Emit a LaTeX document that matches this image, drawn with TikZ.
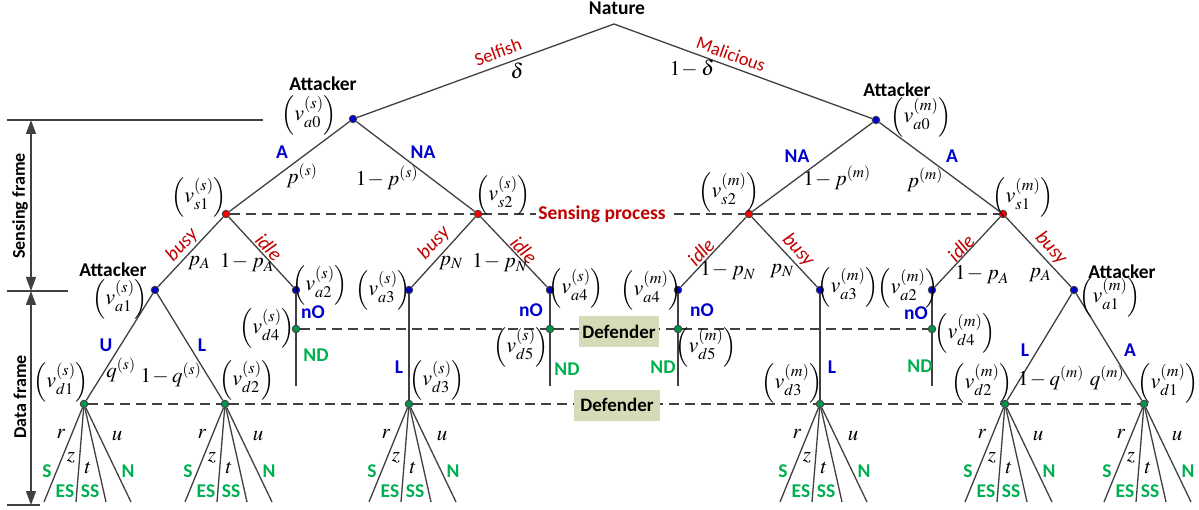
\documentclass[tikz,border=0pt]{standalone}
\usepackage{mathptmx}
\usepackage{fontspec}
\setmainfont{Carlito}
\usetikzlibrary{arrows.meta}
\definecolor{lgray}{HTML}{404040}
\definecolor{tblue}{HTML}{0000CC}
\definecolor{tred}{HTML}{C00000}
\definecolor{tgreen}{HTML}{00B050}
\definecolor{dblue}{HTML}{0000CC}
\definecolor{dred}{HTML}{FF0000}
\definecolor{dgreen}{HTML}{00964A}
\definecolor{boxgreen}{HTML}{D5DBB6}
\newcommand\vlbl[2]{$\left(v^{(#1)}_{#2}\right)$}
\newcommand\omn{1\mkern1mu{-}\mkern3mu}
\newcommand\drawfan[1]{%
  \path (#1) ++(-40,98) coordinate (#1l1);
  \path (#1) ++(-8,98) coordinate (#1l2);
  \path (#1) ++(22,98) coordinate (#1l3);
  \path (#1) ++(47,98) coordinate (#1l4);
  \draw[edge] (#1) -- (#1l1);
  \draw[edge] (#1) -- (#1l2);
  \draw[edge] (#1) -- (#1l3);
  \draw[edge] (#1) -- (#1l4);
  \path (#1) ++(-23,30) node[mlab] (#1r) {$r$};
  \path (#1) ++(-13,54) node[mlab] (#1z) {$z$};
  \path (#1) ++(4,64) node[mlab] (#1t) {$t$};
  \path (#1) ++(33,32) node[mlab] (#1u) {$u$};
  \path (#1) ++(-37,67) node[glab] (#1S) {S};
  \path (#1) ++(-19,87) node[glab] (#1ES) {ES};
  \path (#1) ++(6,87) node[glab] (#1SS) {SS};
  \path (#1) ++(44,67) node[glab] (#1N) {N};
}
\begin{document}
\begin{tikzpicture}[x=1pt,y=-1pt,
  edge/.style={draw=lgray, line width=1.3pt},
  dashline/.style={draw=lgray, line width=1.2pt, dash pattern=on 10pt off 6pt},
  dotbase/.style={circle, inner sep=0pt, minimum size=7.5pt, draw=lgray, line width=0.9pt},
  dotb/.style={dotbase, fill=dblue},
  dotr/.style={dotbase, fill=dred},
  dotg/.style={dotbase, fill=dgreen},
  blab/.style={text=tblue, font=\fontsize{19.5}{21}\selectfont\bfseries, inner sep=0pt},
  glab/.style={text=tgreen, font=\fontsize{19.5}{21}\selectfont\bfseries, inner sep=0pt},
  rlab/.style={text=tred, font=\fontsize{20}{22}\selectfont\itshape, inner sep=0pt},
  slab/.style={text=tred, font=\fontsize{18.5}{20}\selectfont, inner sep=0pt},
  klab/.style={font=\fontsize{19.5}{21}\selectfont\bfseries, inner sep=0pt},
  mlab/.style={font=\fontsize{21}{23}\selectfont, inner sep=0pt},
  vlab/.style={font=\fontsize{22}{24}\selectfont, inner sep=0pt},
  defbox/.style={fill=boxgreen, font=\fontsize{19}{20}\selectfont\bfseries, inner sep=0pt, minimum width=80pt, minimum height=31pt},
  framearrow/.style={draw=lgray, line width=1.3pt, {Triangle[length=14pt,width=10pt]}-{Triangle[length=14pt,width=10pt]}},
  tick/.style={draw=lgray, line width=1.3pt}
]
\useasboundingbox (0,0) rectangle (1199,510);

% ---------- nodes ----------
\coordinate (nat) at (614,24);
\node[dotb] (a0s) at (353,119) {};
\node[dotb] (a0m) at (876,120) {};
\node[dotr] (s1s) at (226,214) {};
\node[dotr] (s2s) at (478,214) {};
\node[dotr] (s2m) at (749,214) {};
\node[dotr] (s1m) at (1003,214) {};
\node[dotb] (a1s) at (155,290) {};
\node[dotb] (a2s) at (296,290) {};
\node[dotb] (a3s) at (409,290) {};
\node[dotb] (a4s) at (550,290) {};
\node[dotb] (a4m) at (678,290) {};
\node[dotb] (a3m) at (820,290) {};
\node[dotb] (a2m) at (932,290) {};
\node[dotb] (a1m) at (1074,290) {};
\node[dotg] (d4s) at (296,329) {};
\node[dotg] (d5s) at (550,329) {};
\node[dotg] (d5m) at (678,329) {};
\node[dotg] (d4m) at (932,329) {};
\node[dotg] (d1s) at (84,404) {};
\node[dotg] (d2s) at (225,404) {};
\node[dotg] (d3s) at (409,404) {};
\node[dotg] (d3m) at (820,404) {};
\node[dotg] (d2m) at (1005,404) {};
\node[dotg] (d1m) at (1144,404) {};
\coordinate (e4s) at (296,386);
\coordinate (e5s) at (550,386);
\coordinate (e5m) at (678,386);
\coordinate (e4m) at (932,386);

% ---------- tree edges ----------
\draw[edge] (nat) -- (a0s);
\draw[edge] (nat) -- (a0m);
\draw[edge] (a0s) -- (s1s);
\draw[edge] (a0s) -- (s2s);
\draw[edge] (a0m) -- (s2m);
\draw[edge] (a0m) -- (s1m);
\draw[edge] (s1s) -- (a1s);
\draw[edge] (s1s) -- (a2s);
\draw[edge] (s2s) -- (a3s);
\draw[edge] (s2s) -- (a4s);
\draw[edge] (s2m) -- (a4m);
\draw[edge] (s2m) -- (a3m);
\draw[edge] (s1m) -- (a2m);
\draw[edge] (s1m) -- (a1m);
\draw[edge] (a1s) -- (d1s);
\draw[edge] (a1s) -- (d2s);
\draw[edge] (a2s) -- (d4s);
\draw[edge] (d4s) -- (e4s);
\draw[edge] (a3s) -- (d3s);
\draw[edge] (a4s) -- (d5s);
\draw[edge] (d5s) -- (e5s);
\draw[edge] (a4m) -- (d5m);
\draw[edge] (d5m) -- (e5m);
\draw[edge] (a3m) -- (d3m);
\draw[edge] (a2m) -- (d4m);
\draw[edge] (d4m) -- (e4m);
\draw[edge] (a1m) -- (d2m);
\draw[edge] (a1m) -- (d1m);

% ---------- dashed information sets ----------
\draw[dashline] (s1s) -- (s2s) -- (s2m) -- (s1m);
\draw[dashline] (d4s) -- (d5s) -- (d5m) -- (d4m);
\draw[dashline] (d1s) -- (d2s) -- (d3s) -- (d3m) -- (d2m) -- (d1m);

\node[fill=white, text=tred, font=\fontsize{19.5}{21}\selectfont\bfseries, inner xsep=2pt, inner ysep=1pt] (sp) at (602,214) {Sensing process};
\node[defbox] (def1) at (619,332) {Defender};
\node[defbox, minimum width=86pt] (def2) at (617,405) {Defender};

% ---------- fans ----------
\drawfan{d1s}
\drawfan{d2s}
\drawfan{d3s}
\drawfan{d3m}
\drawfan{d2m}
\drawfan{d1m}

% ---------- player labels ----------
\node[klab] (natl) at (617,8) {Nature};
\node[klab] (atk0s) at (323,84) {Attacker};
\node[klab] (atk0m) at (897,90) {Attacker};
\node[klab] (atk1s) at (113,270) {Attacker};
\node[klab] (atk1m) at (1122,272) {Attacker};

% ---------- vertex labels ----------
\node[vlab] at (309,115) {\vlbl{s}{a0}};
\node[vlab] at (921,117) {\vlbl{m}{a0}};
\node[vlab] at (199,197) {\vlbl{s}{s1}};
\node[vlab] at (503,195) {\vlbl{s}{s2}};
\node[vlab] at (729,192) {\vlbl{m}{s2}};
\node[vlab] at (1023,197) {\vlbl{m}{s1}};
\node[vlab] at (120,299) {\vlbl{s}{a1}};
\node[vlab] at (320,285) {\vlbl{s}{a2}};
\node[vlab] at (383,290) {\vlbl{s}{a3}};
\node[vlab] at (576,288) {\vlbl{s}{a4}};
\node[vlab] at (651,290) {\vlbl{m}{a4}};
\node[vlab] at (848,287) {\vlbl{m}{a3}};
\node[vlab] at (908,288) {\vlbl{m}{a2}};
\node[vlab] at (1110,297) {\vlbl{m}{a1}};
\node[vlab] at (267,328) {\vlbl{s}{d4}};
\node[vlab] at (521,347) {\vlbl{s}{d5}};
\node[vlab] at (706,347) {\vlbl{m}{d5}};
\node[vlab] at (965,333) {\vlbl{m}{d4}};
\node[vlab] at (437,380) {\vlbl{s}{d3}};
\node[vlab] at (792,383) {\vlbl{m}{d3}};
\node[vlab] at (61,382) {\vlbl{s}{d1}};
\node[vlab] at (247,380) {\vlbl{s}{d2}};
\node[vlab] at (982,383) {\vlbl{m}{d2}};
\node[vlab] at (1168,383) {\vlbl{m}{d1}};

% ---------- edge labels ----------
\node[slab, rotate=20] at (498,52) {Selfish};
\node[mlab] at (517,71) {$\delta$};
\node[slab, rotate=-20] at (731,54) {Malicious};
\node[mlab] at (692,69) {$\omn\delta$};

\node[blab] at (282,152) {A};
\node[mlab] at (302,176) {$p^{(s)}$};
\node[blab] at (423,152) {NA};
\node[mlab] at (387,178) {$\omn p^{(s)}$};
\node[blab] at (797,156) {NA};
\node[mlab] at (837,178) {$\omn p^{(m)}$};
\node[blab] at (952,156) {A};
\node[mlab] at (925,180) {$p^{(m)}$};

\node[rlab, rotate=47] at (182,245) {busy};
\node[mlab] at (199,263) {$p_A$};
\node[rlab, rotate=-47] at (269,247) {idle};
\node[mlab] at (247,263) {$\omn p_A$};
\node[rlab, rotate=47] at (434,243) {busy};
\node[mlab] at (451,263) {$p_N$};
\node[rlab, rotate=-47] at (524,250) {idle};
\node[mlab] at (500,263) {$\omn p_N$};
\node[rlab, rotate=47] at (701,252) {idle};
\node[mlab] at (728,271) {$\omn p_N$};
\node[rlab, rotate=-47] at (798,250) {busy};
\node[mlab] at (782,271) {$p_N$};
\node[rlab, rotate=47] at (961,248) {idle};
\node[mlab] at (982,275) {$\omn p_A$};
\node[rlab, rotate=-47] at (1051,248) {busy};
\node[mlab] at (1040,275) {$p_A$};

\node[blab] at (313,312) {nO};
\node[blab] at (531,310) {nO};
\node[blab] at (702,310) {nO};
\node[blab] at (916,313) {nO};
\node[glab] at (316,355) {ND};
\node[glab] at (567,369) {ND};
\node[glab] at (663,367) {ND};
\node[glab] at (920,366) {ND};

\node[blab] at (106,345) {U};
\node[mlab] at (121,370) {$q^{(s)}$};
\node[blab] at (202,345) {L};
\node[mlab] at (171,375) {$\omn q^{(s)}$};
\node[blab] at (399,367) {L};
\node[blab] at (832,367) {L};
\node[blab] at (1025,350) {L};
\node[mlab] at (1051,378) {$\omn q^{(m)}$};
\node[blab] at (1130,350) {A};
\node[mlab] at (1107,378) {$q^{(m)}$};

% ---------- frame annotations ----------
\coordinate (t1a) at (7,120);
\coordinate (t1b) at (263,120);
\coordinate (t2a) at (7,291);
\coordinate (t2b) at (68,291);
\coordinate (t3a) at (7,505);
\coordinate (t3b) at (40,505);
\coordinate (ar1) at (31,120);
\coordinate (ar2) at (31,291);
\coordinate (ar3) at (31,505);
\draw[tick] (t1a) -- (t1b);
\draw[tick] (t2a) -- (t2b);
\draw[tick] (t3a) -- (t3b);
\draw[framearrow] (ar1) -- (ar2);
\draw[framearrow] (ar2) -- (ar3);
\node[klab, font=\fontsize{18}{20}\selectfont\bfseries, rotate=90] (sf) at (20,206) {Sensing frame};
\node[klab, font=\fontsize{18}{20}\selectfont\bfseries, rotate=90] (df) at (20,397) {Data frame};
\end{tikzpicture}
\end{document}
